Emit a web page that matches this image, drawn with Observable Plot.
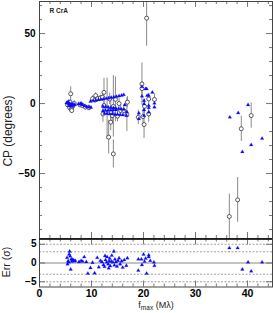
<!DOCTYPE html>
<html><head><meta charset="utf-8">
<script src="https://cdn.jsdelivr.net/npm/d3@7"></script>
<script src="https://cdn.jsdelivr.net/npm/@observablehq/plot@0.6"></script>
<style>
body{margin:0;background:#fff}
#c{position:relative;width:273px;height:313px;font-family:"Liberation Sans",Arial,sans-serif}
#c svg{position:absolute;left:0}
</style>
</head><body><div id="c"></div>
<script>
// ---- data: closure phases (observed), degrees ----
const cpX   = [5.4,5.6,5.8,6.0,6.1,6.3,6.5,6.7,5.9,6.2, 7.8,8.3,8.8,9.5,10.2,10.8,10.7,11.2,11.7, 12.1,12.4,12.4,12.2,13.0,13.3,13.5,13.7,14.2,14.2,14.0,14.6,15.6,16.2,16.8,16.9,13.7,15.0,15.3, 20.6,19.7,20.1,19.7,20.2,21.0,22.1,21.0,19.9,19.0, 36.5,38.1,38.8,40.7];
const cpY   = [-1,0.5,-3,7,-4,-2.5,-1,0,1,-5, -1,-1.5,-2.5,-3,3.5,5.7,2.5,3.5,4, 4.5,8,-1.4,-7.4,-3.8,-24,3.3,-6.2,-36,-2,-8.6,3,-5,-5,-8,1,-13.3,-9,0, 61,14,-15,10.7,-2,3.3,2.9,-7.4,-9.3,-9.8, -80.7,-68.8,-18,-8.6];
const cpErr = [2,2,2.5,5,2.5,2,2,2,2,2, 2,2,2,2,2,2,2,2,2, 3,10,5,6,22,12,4,8,10,22,6,16,4,4,12,4,6,4,4, 20,15,10,5,5,4,4,6,5,5, 16,16,9,9];
// ---- model closure phases ----
const modX = [5.2,5.5,5.8,6.1,6.4,6.8,5.6,6.0,6.3,5.5,6.6, 7.5,7.9,8.3,8.7,9.1,9.5,9.9,8.0,
  9.8,10.3,10.8,11.3,11.8,12.3,12.8,13.3,13.8,14.3,14.8,15.3,15.8,16.2,
  12.2,12.7,13.2,13.7,14.2,14.7,15.2,15.7,16.2, 12.2,12.7,13.2,13.7,14.2,14.7,
  12.5,13.0,13.5,14.0,14.5,15.0,15.5,16.0,16.7,16.4,16.8,
  19.7,20.4,20.6,21.7,19.7,20.7,21.0,20.1,22.1,22.1,21.0,21.0,20.1,19.1,20.1,19.1,21.0,20.1,
  36.6,38.2,40.1,39.0,40.7,42.8];
const modY = [0.5,0.3,0,-0.3,-0.5,-0.8,-1.5,-1.8,-2,1.2,-1, -0.2,-0.5,-1,-1.8,-2.3,-2.6,-2.8,0.2,
  1.5,2,2.3,2.6,2.9,3.2,3.6,3.9,4.3,4.6,5,5.4,5.8,6.3,
  -2,-2.3,-2.6,-2.9,-3.1,-3.4,-3.7,-4,-4.3, -5.2,-5,-4.8,-4.8,-4.6,-4.5,
  -7,-7.2,-7.5,-7.5,-7.7,-7.8,-8,-8.2,-8.5,-1,-6,
  12,10.5,10.5,8,5.2,5.7,5.7,2.1,0.2,-2.6,-1.4,-3,-4.5,-6.9,-8.6,-11,-6.2,-0.2,
  -9.8,-6.7,-1,-34.5,-29.5,-25];
// ---- residuals (sigma) ----
const resX = [5.3,5.5,5.6,5.7,5.8,5.9,6.0,6.1,6.2,6.3,6.5,6.7,5.4,6.9,
  7.6,8.0,8.3,8.6,9.0,9.3,9.8,10.2,10.6,11.1,11.4,11.7,
  12.0,12.3,12.5,12.7,12.9,13.0,13.2,13.4,13.5,13.6,13.8,13.9,14.1,14.3,14.4,14.5,14.7,14.9,15.1,15.3,15.5,15.8,16.0,16.3,16.7,16.9,12.6,13.3,
  19.0,19.0,19.6,19.7,20.0,20.4,20.6,21.0,21.0,21.3,22.0,22.1,20.2,
  36.5,38.1,39.0,40.1,40.7,42.8];
const resY = [1.4,0.5,0.2,2.3,3.1,1.8,-1.7,1.0,0.4,0.9,0.8,0.5,-0.3,0.6,
  0.3,0.6,0.4,1.6,0.3,-2.8,-1.3,0.1,-2.7,1.4,-1.1,0.6,
  0.3,-0.5,-1.0,0.8,0.2,1.6,-0.3,0.5,1.2,-0.8,0.4,2.0,0.2,3.1,-0.6,1.0,0.3,-0.9,0.6,1.3,-0.3,0.5,-1.2,0.8,-0.7,1.3,1.9,-1.4,
  1.0,-2.0,1.0,-0.5,2.3,1.2,-2.8,2.1,1.6,0.6,0.2,-0.7,0.4,
  4.0,4.0,-1.7,0.2,-2.2,0.2];
// ---- ticks ----
const xMajor = [0,10,20,30,40];
const xMinor = [2,4,6,8,12,14,16,18,22,24,26,28,32,34,36,38,42,44];
const yMajorTop = [-50,0,50];
const yMinorTop = [-90,-80,-70,-60,-40,-30,-20,-10,10,20,30,40,60,70];
const yMajorBot = [-5,0,5];
const errLevels = [-5,-3,3,5];

const xDom = [0, 44.8];
const yDomTop = [-96.4, 72.9];
const yDomBot = [-6.4, 6.4];
const FONT = "'Liberation Sans',Arial,Helvetica,sans-serif";
const BLUE = "#0a0aff";

const cp = cpX.map((x,i)=>({x, y:cpY[i], e:cpErr[i]}));
const mod = modX.map((x,i)=>({x, y:modY[i]}));
const res = resX.map((x,i)=>({x, y:resY[i]}));

const xu = (xDom[1]-xDom[0])/233;
const yuT = (yDomTop[1]-yDomTop[0])/237;
const yuB = (yDomBot[1]-yDomBot[0])/48;

function xTicksMarks(yLo, yHi, yu){
  return [
    Plot.ruleX(xMajor, {y1: yLo, y2: yLo + 6*yu, stroke:"#555", strokeWidth:0.8}),
    Plot.ruleX(xMinor, {y1: yLo, y2: yLo + 3*yu, stroke:"#555", strokeWidth:0.8}),
    Plot.ruleX(xMajor, {y1: yHi, y2: yHi - 6*yu, stroke:"#555", strokeWidth:0.8}),
    Plot.ruleX(xMinor, {y1: yHi, y2: yHi - 3*yu, stroke:"#555", strokeWidth:0.8})
  ];
}
function yTicksMarks(major, minor){
  return [
    Plot.ruleY(major, {x1: xDom[0], x2: xDom[0] + 6*xu, stroke:"#555", strokeWidth:0.8}),
    Plot.ruleY(minor, {x1: xDom[0], x2: xDom[0] + 3*xu, stroke:"#555", strokeWidth:0.8}),
    Plot.ruleY(major, {x1: xDom[1], x2: xDom[1] - 6*xu, stroke:"#555", strokeWidth:0.8}),
    Plot.ruleY(minor, {x1: xDom[1], x2: xDom[1] - 3*xu, stroke:"#555", strokeWidth:0.8})
  ];
}

const topPlot = Plot.plot({
  width:273, height:239, marginLeft:39, marginRight:1, marginTop:1, marginBottom:1,
  style:{fontFamily:FONT, fontSize:"10px", fontWeight:"bold", background:"transparent", overflow:"visible"},
  x:{domain:xDom, axis:null},
  y:{domain:yDomTop},
  marks:[
    ...xTicksMarks(yDomTop[0], yDomTop[1], yuT),
    ...yTicksMarks(yMajorTop, yMinorTop),
    Plot.ruleX(cp, {x:"x", y1:d=>d.y-d.e, y2:d=>d.y+d.e, stroke:"#8a8a8a", strokeWidth:1, clip:true}),
    Plot.dot(cp, {x:"x", y:"y", r:2, stroke:"#333", strokeWidth:0.8, fill:"white", clip:true}),
    Plot.dot(mod, {x:"x", y:"y", symbol:"triangle", r:1.35, fill:BLUE, stroke:BLUE, strokeWidth:0.2, clip:true}),
    Plot.frame({stroke:"#444", strokeWidth:1}),
    Plot.axisY({ticks:yMajorTop, tickSize:0, tickPadding:4, label:null, fontWeight:"bold", fontSize:10}),
    Plot.text(["R CrA"], {frameAnchor:"top-left", dx:10, dy:6.5, fontSize:6.5, fontWeight:"bold", fill:"#222"})
  ]
});

const botPlot = Plot.plot({
  width:273, height:75, marginLeft:39, marginRight:1, marginTop:0.5, marginBottom:26.5,
  style:{fontFamily:FONT, fontSize:"10px", fontWeight:"bold", background:"transparent", overflow:"visible"},
  x:{domain:xDom},
  y:{domain:yDomBot},
  marks:[
    Plot.ruleY(errLevels, {stroke:"#888", strokeWidth:0.8, strokeDasharray:"2,1.5"}),
    Plot.ruleY([0], {stroke:"#888", strokeWidth:1}),
    ...xTicksMarks(yDomBot[0], yDomBot[1], yuB),
    Plot.ruleY(yMajorBot, {x1: xDom[0], x2: xDom[0] + 6*xu, stroke:"#555", strokeWidth:0.8}),
    Plot.ruleY(yMajorBot, {x1: xDom[1], x2: xDom[1] - 6*xu, stroke:"#555", strokeWidth:0.8}),
    Plot.dot(res, {x:"x", y:"y", symbol:"triangle", r:1.35, fill:BLUE, stroke:BLUE, strokeWidth:0.2}),
    Plot.frame({stroke:"#444", strokeWidth:1}),
    Plot.ruleY([yDomBot[1]], {stroke:"#111", strokeWidth:1.6}),
    Plot.axisY({ticks:yMajorBot, tickSize:0, tickPadding:3, label:null, fontWeight:"bold", fontSize:10}),
    Plot.axisX({ticks:xMajor, tickSize:0, tickPadding:3, label:null, fontWeight:"bold", fontSize:10.5})
  ]
});

const c = document.getElementById("c");
topPlot.style.top = "0px";
botPlot.style.top = "238px";
c.appendChild(topPlot);
c.appendChild(botPlot);

const st = d3.select(topPlot);
st.append("text").attr("transform","translate(12,131) rotate(-90)")
  .attr("text-anchor","middle").attr("font-size",12).attr("font-weight","normal")
  .attr("fill","#222").attr("font-family",FONT).text("CP (degrees)");
const sb = d3.select(botPlot);
sb.append("text").attr("transform","translate(10,24) rotate(-90)")
  .attr("text-anchor","middle").attr("font-size",10.5).attr("font-weight","normal")
  .attr("fill","#222").attr("font-family",FONT).text("Err (σ)");
const xt = sb.append("text").attr("x",156).attr("y",70).attr("text-anchor","middle")
  .attr("font-size",9).attr("font-weight","normal").attr("fill","#222").attr("font-family",FONT);
xt.append("tspan").text("f");
xt.append("tspan").attr("font-size",6.5).attr("dy",2).text("max");
xt.append("tspan").attr("dy",-2).text(" (Mλ)");
</script>
</body></html>
